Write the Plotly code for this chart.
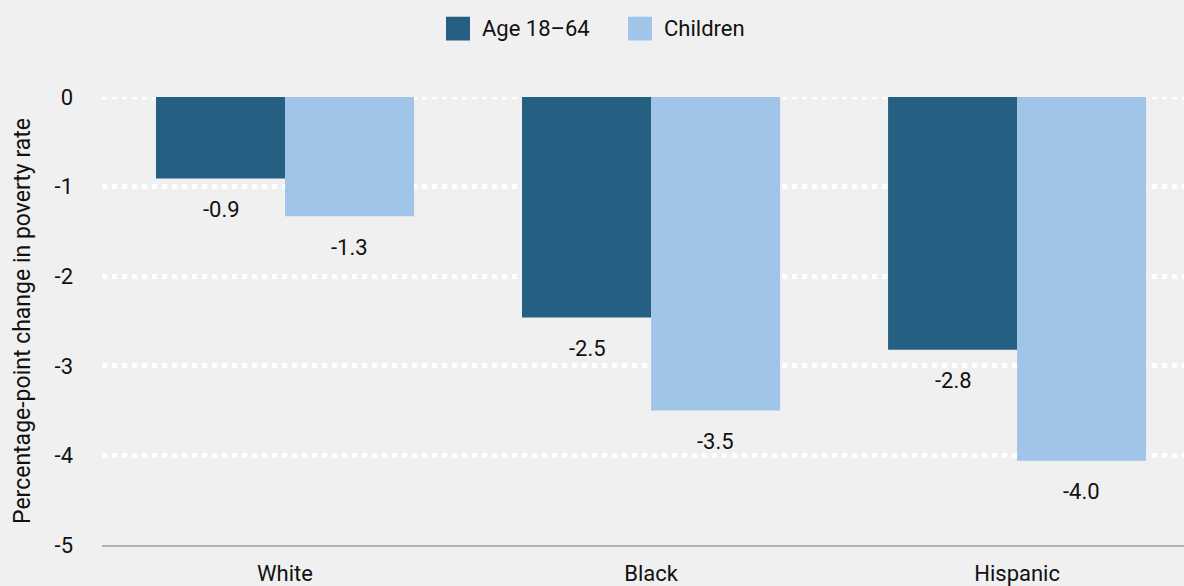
import plotly.graph_objects as go

categories = ["White", "Black", "Hispanic"]
age_18_64 = [-0.91, -2.46, -2.82]
children = [-1.33, -3.50, -4.06]
age_labels = ["-0.9", "-2.5", "-2.8"]
child_labels = ["-1.3", "-3.5", "-4.0"]
y_ticks = [0, -1, -2, -3, -4, -5]
series_names = ["Age 18\u201364", "Children"]

FONT = "Roboto, sans-serif"
DARK = "#256082"
LIGHT = "#a0c5e8"
BG = "#f0f0f0"

fig = go.Figure()
fig.add_trace(go.Bar(x=categories, y=age_18_64, name=series_names[0],
                     marker=dict(color=DARK, line=dict(width=0))))
fig.add_trace(go.Bar(x=categories, y=children, name=series_names[1],
                     marker=dict(color=LIGHT, line=dict(width=0))))

for cat, v, t in zip(categories, age_18_64, age_labels):
    fig.add_annotation(x=cat, y=v, text=t, showarrow=False, xshift=-64, yshift=-31,
                       font=dict(size=22, color="#111111", family=FONT))
for cat, v, t in zip(categories, children, child_labels):
    fig.add_annotation(x=cat, y=v, text=t, showarrow=False, xshift=64, yshift=-31,
                       font=dict(size=22, color="#111111", family=FONT))

# zero gridline (at top edge of the plot)
fig.add_shape(type="line", xref="paper", yref="y", x0=0, x1=1, y0=0, y1=0,
              line=dict(color="#ffffff", width=5, dash="5px,5px"), layer="below")

# custom legend
plot_left, plot_w, plot_top, plot_h = 102, 1082, 97, 452
def px(xp):
    return (xp - plot_left) / plot_w
def py(yp):
    return 1 + (plot_top - yp) / plot_h

legend_items = [(series_names[0], DARK, 446), (series_names[1], LIGHT, 628)]
for name, col, x0 in legend_items:
    fig.add_shape(type="rect", xref="paper", yref="paper",
                  x0=px(x0), x1=px(x0 + 24), y0=py(40), y1=py(16),
                  fillcolor=col, line=dict(width=0))
    fig.add_annotation(xref="paper", yref="paper", x=px(x0 + 34), y=py(28),
                       xanchor="left", yanchor="middle", text=name, showarrow=False,
                       font=dict(size=22, color="#111111", family=FONT))

fig.update_layout(
    width=1184, height=586,
    paper_bgcolor=BG, plot_bgcolor=BG,
    margin=dict(l=102, r=0, t=97, b=37),
    barmode="group", bargap=0.295, bargroupgap=0,
    showlegend=False,
    font=dict(family=FONT, size=22, color="#111111"),
    xaxis=dict(range=[-0.5, 2.456], showgrid=False, showline=True,
               linecolor="#b3b3b3", linewidth=2, ticks="", tickfont=dict(size=22),
               ticklabelstandoff=8, fixedrange=True),
    yaxis=dict(range=[-5, 0], tickvals=y_ticks, ticktext=[str(v) for v in y_ticks],
               showgrid=True, gridcolor="#ffffff", gridwidth=5, griddash="5px,5px",
               zeroline=False, showline=False, ticks="", ticklabelstandoff=28,
               tickfont=dict(size=22),
               title=dict(text="Percentage-point change in poverty rate",
                          font=dict(size=23), standoff=17)),
)

fig.write_html("out.html")
